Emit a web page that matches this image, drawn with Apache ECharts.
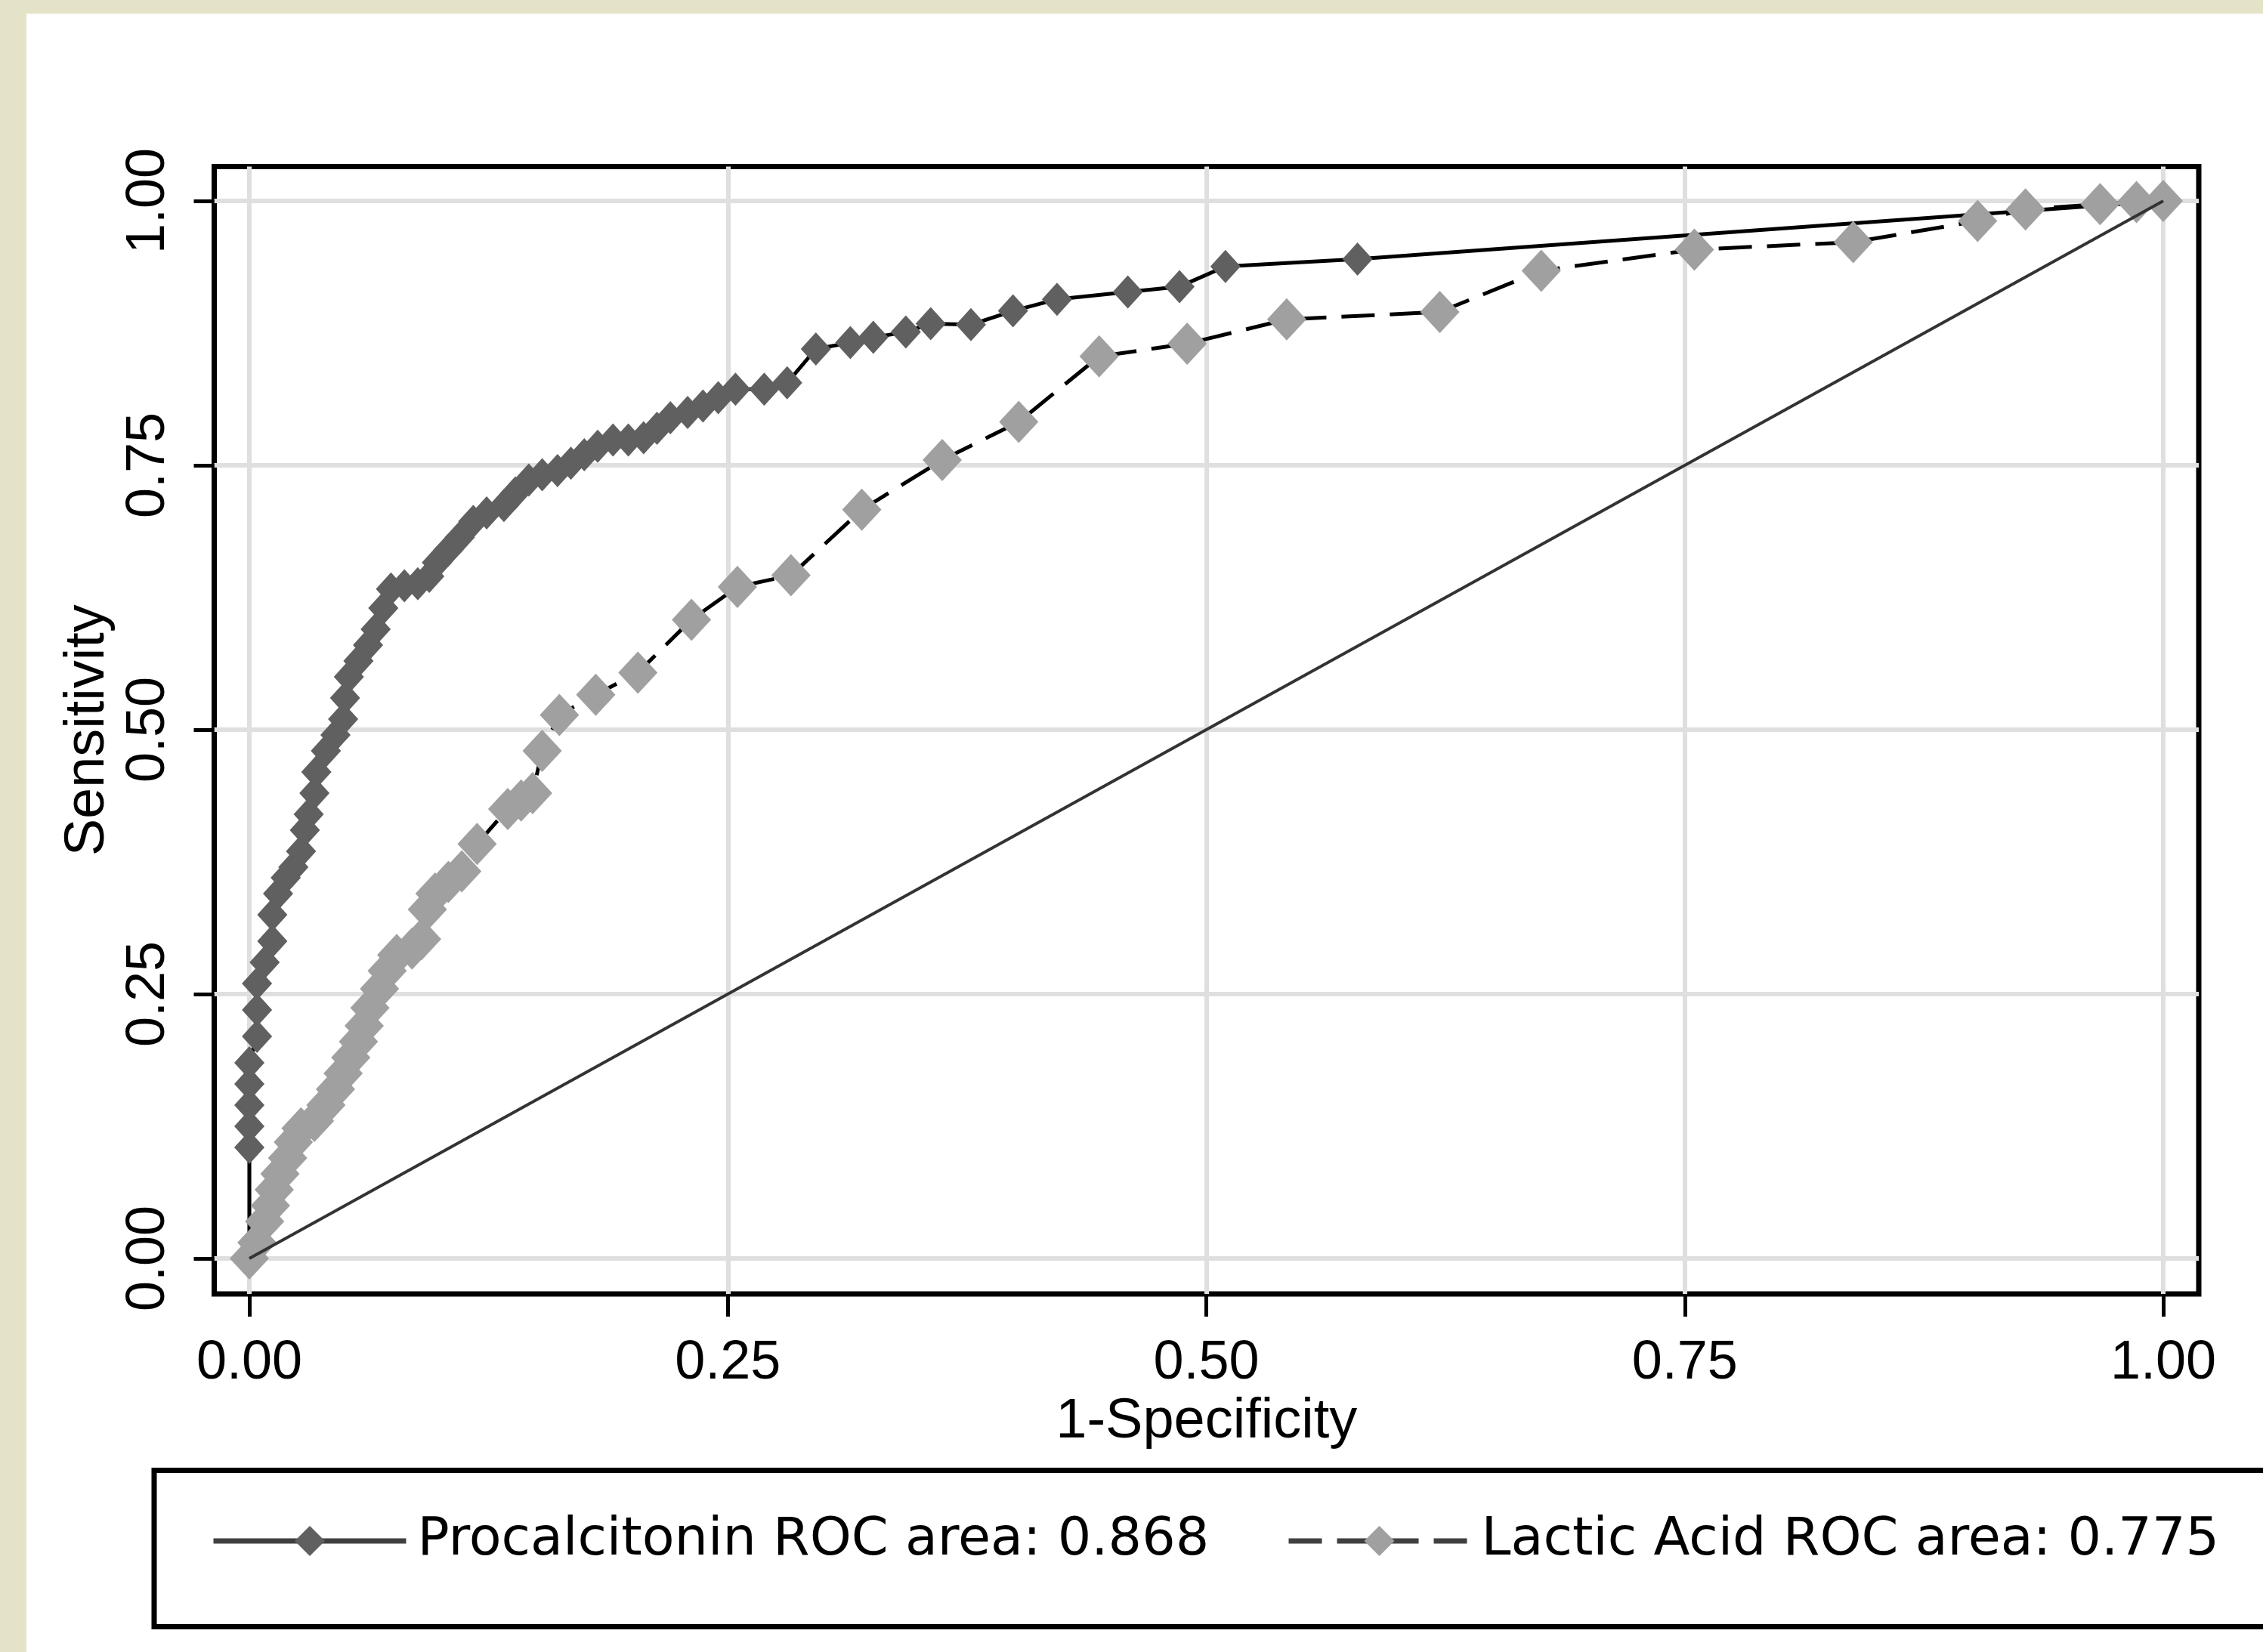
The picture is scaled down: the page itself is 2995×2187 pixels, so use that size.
<!DOCTYPE html>
<html>
<head>
<meta charset="utf-8">
<script src="https://cdn.jsdelivr.net/npm/echarts@6.0.0/dist/echarts.min.js"></script>
<style>
  html, body { margin: 0; padding: 0; background: #e4e3c7; }
  #chart { width: 2995px; height: 2187px; }
</style>
</head>
<body>
<div id="chart"></div>
<script>
  // ROC points (1-specificity / sensitivity)
  var procFpr = [0, 0, 0, 0, 0, 0, 0.004, 0.004, 0.004, 0.008, 0.012, 0.012, 0.015, 0.019, 0.023, 0.027, 0.029, 0.031, 0.034, 0.035,
    0.04, 0.045, 0.049, 0.05, 0.052, 0.057, 0.062, 0.066, 0.07, 0.074, 0.081, 0.088, 0.094, 0.098, 0.104, 0.11, 0.117, 0.124, 0.133, 0.139,
    0.146, 0.153, 0.161, 0.168, 0.175, 0.182, 0.19, 0.198, 0.206, 0.213, 0.22, 0.229, 0.237, 0.245, 0.254, 0.269, 0.281, 0.296, 0.314, 0.326,
    0.343, 0.356, 0.377, 0.399, 0.422, 0.459, 0.486, 0.51, 0.579, 1];
  var procTpr = [0, 0.105, 0.125, 0.145, 0.165, 0.185, 0.21, 0.235, 0.26, 0.28, 0.3, 0.325, 0.345, 0.36, 0.37, 0.385, 0.405, 0.42, 0.44, 0.46,
    0.48, 0.495, 0.51, 0.53, 0.55, 0.565, 0.58, 0.595, 0.615, 0.633, 0.636, 0.638, 0.645, 0.658, 0.67, 0.682, 0.697, 0.705, 0.712, 0.724,
    0.736, 0.741, 0.745, 0.752, 0.76, 0.768, 0.774, 0.774, 0.776, 0.785, 0.795, 0.8, 0.806, 0.814, 0.822, 0.822, 0.828, 0.86, 0.866, 0.871,
    0.876, 0.884, 0.883, 0.896, 0.907, 0.914, 0.919, 0.938, 0.945, 1];

  var lactFpr = [0, 0.004, 0.008, 0.011, 0.013, 0.016, 0.02, 0.023, 0.027, 0.034, 0.04, 0.045, 0.049, 0.053, 0.057, 0.06, 0.063, 0.068, 0.072, 0.077,
    0.085, 0.09, 0.093, 0.097, 0.104, 0.111, 0.119, 0.135, 0.142, 0.148, 0.153, 0.162, 0.181, 0.203, 0.231, 0.255, 0.283, 0.32, 0.362, 0.402,
    0.444, 0.49, 0.542, 0.622, 0.675, 0.755, 0.838, 0.903, 0.928, 0.967, 0.986, 1];
  var lactTpr = [0, 0.015, 0.035, 0.05, 0.065, 0.08, 0.095, 0.11, 0.123, 0.13, 0.145, 0.16, 0.175, 0.19, 0.205, 0.22, 0.237, 0.255, 0.272, 0.287,
    0.293, 0.302, 0.33, 0.345, 0.356, 0.366, 0.392, 0.425, 0.433, 0.44, 0.48, 0.514, 0.533, 0.554, 0.604, 0.635, 0.646, 0.708, 0.755, 0.791,
    0.853, 0.865, 0.888, 0.895, 0.934, 0.954, 0.961, 0.981, 0.992, 0.997, 0.999, 1];

  var refFpr = [0, 1];
  var refTpr = [0, 1];

  var tickValues = [0, 0.25, 0.5, 0.75, 1];
  var seriesNames = ['Procalcitonin ROC area: 0.868', 'Lactic Acid ROC area: 0.775'];

  var App = {};

  App.init = function(){
    var _this = this;

    var pairs = function(xs, ys){
      return xs.map(function(x, i){ return [x, ys[i]]; });
    };
    var fmt = function(v){ return v.toFixed(2); };

    _this.F_loadChart = function(){
      var chart = echarts.init(document.getElementById('chart'));

      var axisFont = { fontFamily: 'Liberation Sans', fontSize: 72, color: '#000' };
      var legendBase = {
        top: 2005, padding: 0, itemHeight: 50, selectedMode: false,
        lineStyle: { width: 7, color: '#404040' },
        textStyle: { fontFamily: 'DejaVu Sans', fontSize: 70, color: '#000', padding: [0, 0, 0, 10] }
      };

      var option = {
        animation: false,
        backgroundColor: '#e4e3c7',
        graphic: [
          { type: 'rect', z: -10, silent: true, shape: { x: 35, y: 18, width: 3000, height: 2200 }, style: { fill: '#fff' } },
          { type: 'rect', z: 10, silent: true, shape: { x: 204, y: 1946.5, width: 3000, height: 207 },
            style: { fill: 'none', stroke: '#000', lineWidth: 7 } }
        ],
        grid: {
          left: 283.5, top: 220.5, width: 2626.5, height: 1492.5,
          show: true, borderColor: '#000', borderWidth: 7, backgroundColor: 'transparent',
          containLabel: false, outerBoundsMode: 'none'
        },
        legend: [
          Object.assign({ data: [seriesNames[0]], left: 279, itemWidth: 255 }, legendBase),
          Object.assign({ data: [seriesNames[1]], left: 1702, itemWidth: 240 }, legendBase)
        ],
        xAxis: {
          type: 'value', min: -0.01836, max: 1.01855,
          name: '1-Specificity', nameLocation: 'middle', nameGap: 116,
          nameTextStyle: { fontFamily: 'Liberation Sans', fontSize: 74, color: '#000' },
          axisLine: { show: false, onZero: false },
          axisTick: { show: true, length: 30, customValues: tickValues, lineStyle: { color: '#000', width: 5 } },
          axisLabel: Object.assign({ customValues: tickValues, formatter: fmt, margin: 56 }, axisFont),
          splitLine: { show: true, lineStyle: { color: '#dfdfdf', width: 6 } }
        },
        yAxis: {
          type: 'value', min: -0.0336, max: 1.0325,
          name: 'Sensitivity', nameLocation: 'middle', nameRotate: 90, nameGap: 86,
          nameTextStyle: { fontFamily: 'Liberation Sans', fontSize: 74, color: '#000' },
          axisLine: { show: false, onZero: false },
          axisTick: { show: true, length: 27, customValues: tickValues, lineStyle: { color: '#000', width: 5 } },
          axisLabel: Object.assign({ customValues: tickValues, formatter: fmt, margin: 50, rotate: 90 }, axisFont),
          splitLine: { show: true, lineStyle: { color: '#dfdfdf', width: 6 } }
        },
        series: [
          {
            name: seriesNames[0], type: 'line', z: 3,
            data: pairs(procFpr, procTpr),
            symbol: 'diamond', symbolSize: [40, 44], showAllSymbol: true,
            itemStyle: { color: '#606060' },
            lineStyle: { color: '#000', width: 5 }
          },
          {
            name: seriesNames[1], type: 'line', z: 4,
            data: pairs(lactFpr, lactTpr),
            symbol: 'diamond', symbolSize: [52, 56], showAllSymbol: true,
            itemStyle: { color: '#a0a0a0' },
            lineStyle: { color: '#000', width: 5, type: [44, 20] }
          },
          {
            name: 'reference', type: 'line', z: 5, silent: true,
            data: pairs(refFpr, refTpr),
            symbol: 'none',
            lineStyle: { color: '#333', width: 4 }
          }
        ]
      };

      chart.setOption(option);
    };

    _this.F_loadChart();
  };

  App.init();
</script>
</body>
</html>
